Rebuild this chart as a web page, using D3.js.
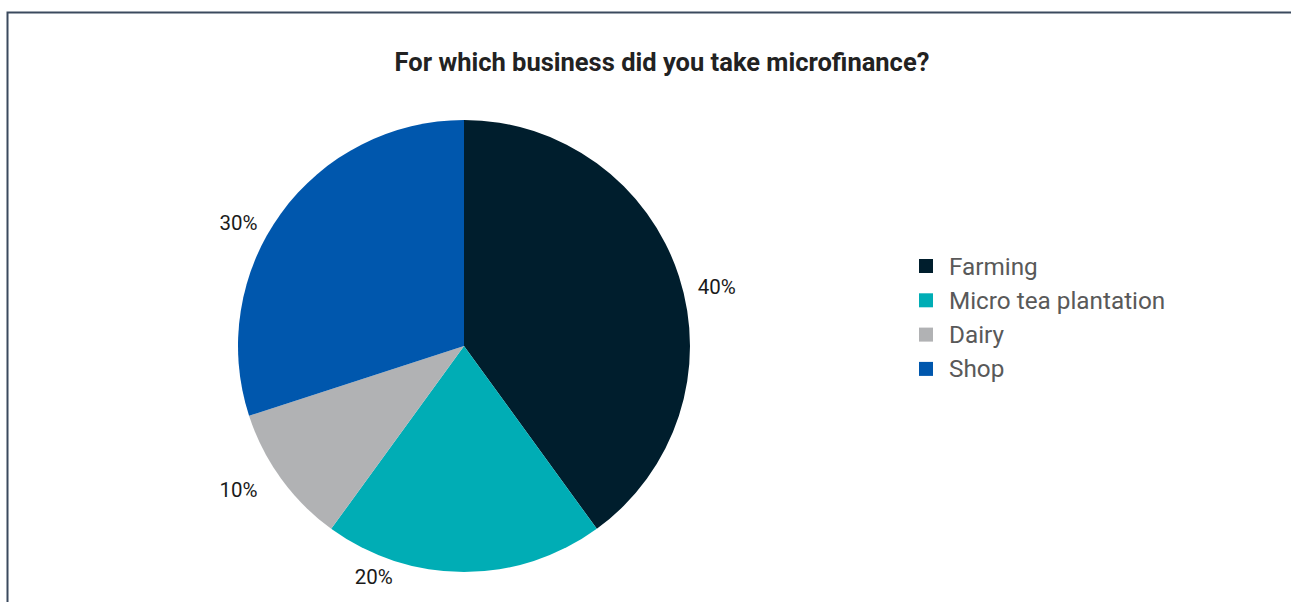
<!DOCTYPE html>
<html>
<head>
<meta charset="utf-8">
<script src="https://cdn.jsdelivr.net/npm/d3@7"></script>
<style>
  body { margin: 0; background: #fff; }
  text { font-family: Roboto, "Noto Sans", sans-serif; }
</style>
</head>
<body>
<script>
var categories = ["Farming", "Micro tea plantation", "Dairy", "Shop"],
    shares = [40, 20, 10, 30],
    colors = ["#001e2d", "#00adb5", "#b1b2b4", "#0057ad"];

var width = 1291,
    height = 602,
    cx = 464,
    cy = 346,
    radius = 226,
    labelRadius = 262,
    labelDrop = 10,
    labelMaxY = 577;

var svg = d3.select("body")
  .append("svg")
  .attr("width", width)
  .attr("height", height);

// frame (top and left edges visible)
svg.append("path")
  .attr("d", "M7.5," + height + "V12.5H" + width)
  .attr("fill", "none")
  .attr("stroke", "#3b4a5e")
  .attr("stroke-width", 2);

svg.append("text")
  .attr("x", 662)
  .attr("y", 71)
  .attr("text-anchor", "middle")
  .attr("font-size", 25.5)
  .attr("font-weight", 700)
  .attr("fill", "#222")
  .text("For which business did you take microfinance?");

var color = d3.scaleOrdinal().domain(categories).range(colors);

var pie = d3.pie().sort(null).value(function(d, i) { return shares[i]; });
var arcs = pie(categories);

var arc = d3.arc().innerRadius(0).outerRadius(radius);

var g = svg.append("g")
  .attr("transform", "translate(" + cx + "," + cy + ")");

g.selectAll("path.slice")
  .data(arcs)
  .enter()
  .append("path")
  .attr("class", "slice")
  .attr("d", arc)
  .attr("fill", function(d) { return color(d.data); });

// data labels outside the pie, nudged toward the horizontal;
// a label that would fall off the bottom hugs the pie edge instead
g.selectAll("text.label")
  .data(arcs)
  .enter()
  .append("text")
  .attr("class", "label")
  .attr("font-size", 20.5)
  .attr("fill", "#1a1a1a")
  .attr("text-anchor", "middle")
  .attr("dy", "0.35em")
  .each(function(d) {
    var a = (d.startAngle + d.endAngle) / 2,
        side = a < Math.PI ? Math.PI / 2 : 3 * Math.PI / 2;
    a = a + 0.15 * (side - a);
    var x = labelRadius * Math.sin(a),
        y = -labelRadius * Math.cos(a) + labelDrop;
    if (cy + y > labelMaxY) {
      var rr = radius + 22;
      y = labelMaxY - cy;
      x = -Math.sqrt(rr * rr - y * y);
    }
    d3.select(this).attr("x", x).attr("y", y);
  })
  .text(function(d, i) { return shares[i] + "%"; });

var legend = svg.append("g")
  .attr("transform", "translate(919,266)");

var item = legend.selectAll("g")
  .data(categories)
  .enter()
  .append("g")
  .attr("transform", function(d, i) { return "translate(0," + (i * 34.3) + ")"; });

item.append("rect")
  .attr("x", 0)
  .attr("y", -7)
  .attr("width", 14)
  .attr("height", 14)
  .attr("fill", function(d) { return color(d); });

item.append("text")
  .attr("x", 30)
  .attr("dy", "0.35em")
  .attr("font-size", 24.3)
  .attr("fill", "#595959")
  .text(function(d) { return d; });
</script>
</body>
</html>
